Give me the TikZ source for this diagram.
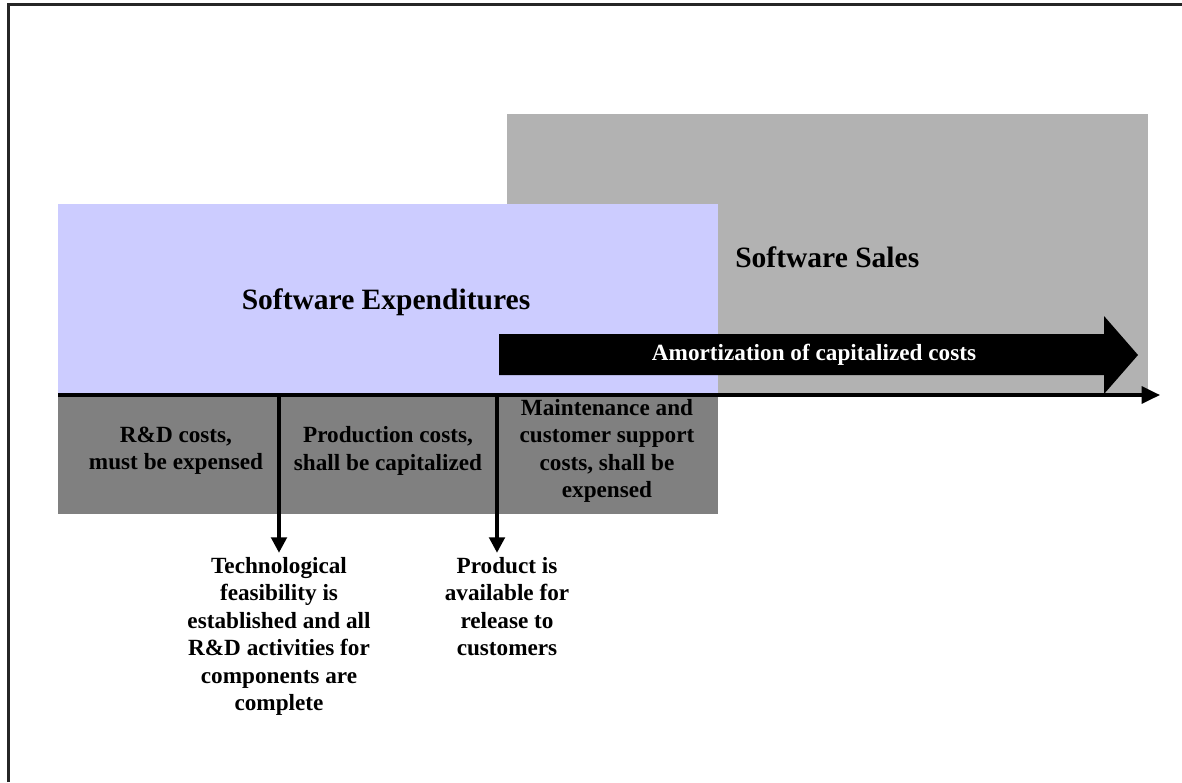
\documentclass[tikz,border=0pt]{standalone}
\usepackage{fontspec}
\setmainfont{Liberation Serif}
\usepackage{tikz}
\usetikzlibrary{positioning, arrows.meta}

\definecolor{expblue}{HTML}{CCCCFF}
\definecolor{salesgray}{HTML}{B2B2B2}
\definecolor{costgray}{HTML}{808080}

\begin{document}
\begin{tikzpicture}[x=0.025cm, y=-0.025cm, >={Triangle[length=11pt, width=11pt]},
  bigtxt/.style={font=\fontsize{21}{25}\selectfont\bfseries},
  smalltxt/.style={font=\fontsize{16.5}{19.5}\selectfont\bfseries, align=center, inner sep=0pt}]
  \useasboundingbox (0,0) rectangle (1182,782);
  \draw[line width=1.5pt, black!85] (8.5,782) |- (1182,4.5);
  % the three blocks
  \fill[salesgray] (507,114) rectangle (1148,395);
  \fill[expblue] (58,204) rectangle (718,395);
  \fill[costgray] (58,395) rectangle (718,514);
  % amortization arrow
  \fill[black] (499,334) -- (1104,334) -- (1104,316) -- (1138,355) -- (1104,394) -- (1104,375) -- (499,375) -- cycle;
  \node[bigtxt] (exp) at (386,302) {Software Expenditures};
  \node[bigtxt, anchor=west, inner sep=0pt] (sales) at (735,257) {Software Sales};
  \node[smalltxt, text=white] (amort) at (814,355) {Amortization of capitalized costs};
  % time axis
  \coordinate (t0) at (58,395);
  \coordinate (t1) at (1160,395);
  \draw[-{Triangle[length=13pt, width=12pt]}, line width=2.5pt] (t0) -- (t1);
  \node[smalltxt] (rd) at (176,451) {R\&D costs,\\must be expensed};
  \node[smalltxt] (prod) at (388,451) {Production costs,\\shall be capitalized};
  \node[smalltxt] (maint) at (607,451) {Maintenance and\\customer support\\costs, shall be\\expensed};
  % milestones
  \coordinate (m1) at (279,395);
  \coordinate (m2) at (497,395);
  \node[smalltxt, anchor=north] (feas) at (279,557) {Technological\\feasibility is\\established and all\\R\&D activities for\\components are\\complete};
  \node[smalltxt, anchor=north] (rel) at (507,557) {Product is\\available for\\release to\\customers};
  \draw[->, line width=2.5pt, shorten >=3pt] (m1) -- (m1 |- feas.north);
  \draw[->, line width=2.5pt, shorten >=3pt] (m2) -- (m2 |- rel.north);
\end{tikzpicture}
\end{document}
